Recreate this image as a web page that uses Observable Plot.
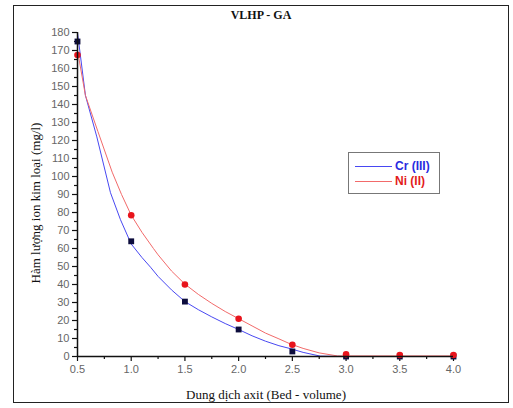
<!DOCTYPE html>
<html>
<head>
<meta charset="utf-8">
<script src="https://cdn.jsdelivr.net/npm/d3@7"></script>
<script src="https://cdn.jsdelivr.net/npm/@observablehq/plot@0.6"></script>
<style>
  html, body { margin: 0; padding: 0; background: #fff; }
  #wrap { position: relative; width: 513px; height: 408px; overflow: hidden; }
  #wrap > svg { position: absolute; left: 0; top: 0; }
  #frame { position: absolute; left: 13px; top: 5px; width: 496px; height: 398px; border: 1.5px solid #222; box-sizing: border-box; }
  #title { position: absolute; left: 0; width: 522px; top: 8px; text-align: center; font: bold 12px "Liberation Serif", "Times New Roman", serif; color: #111; }
  #xlabel { position: absolute; left: 0; width: 532px; top: 387px; text-align: center; font: 13px "Liberation Serif", "Times New Roman", serif; color: #111; }
  #ylabel { position: absolute; left: 36px; top: 203px; transform: translate(-50%, -50%) rotate(-90deg); white-space: nowrap; font: 13px "Liberation Serif", "Times New Roman", serif; color: #111; }
  #legend { position: absolute; left: 348px; top: 152px; width: 92px; height: 42px; border: 1px solid #777; box-sizing: border-box; background: #fff; }
  #legend svg { position: absolute; left: 0; top: 0; }
</style>
</head>
<body>
<div id="wrap">
  <div id="frame"></div>
  <div id="title"></div>
  <div id="xlabel"></div>
  <div id="ylabel"></div>
</div>
<script>
// ---- data ----
const titleText = "VLHP - GA";
const xLabelText = "Dung dịch axit (Bed - volume)";
const yLabelText = "Hàm lượng ion kim loại (mg/l)";
const seriesNames = ["Cr (III)", "Ni (II)"];

const xMeasured = [0.5, 1.0, 1.5, 2.0, 2.5, 3.0, 3.5, 4.0];
const crMeasured = [175, 64, 30.5, 15, 2.8, 0, 0, 0];
const niMeasured = [167.5, 78.5, 40, 21, 6.5, 1.2, 0.8, 0.8];

// fitted curves
const crCurveX = [0.5, 0.574, 0.68, 0.807, 0.9, 1.0, 1.1, 1.18, 1.25, 1.375, 1.5, 1.625, 1.75, 1.875, 2.0, 2.125, 2.25, 2.375, 2.48, 2.6, 2.76, 3.0, 3.5, 4.0];
const crCurveY = [180, 145, 122, 91, 76, 62.5, 55, 49.6, 44.5, 37, 30.5, 26, 22, 18.3, 15, 11.5, 8.5, 6, 4.4, 2.3, 0.2, 0, 0, 0];
const niCurveX = [0.5, 0.574, 0.69, 0.823, 0.91, 1.0, 1.1, 1.207, 1.25, 1.375, 1.5, 1.625, 1.75, 1.875, 2.0, 2.125, 2.25, 2.375, 2.48, 2.6, 2.75, 2.92, 3.5, 4.0];
const niCurveY = [170, 145, 125, 102.4, 90, 78.5, 69, 60, 56.5, 47.5, 40.2, 34.5, 29.5, 25, 21, 17, 13, 9.8, 7, 4.5, 2, 0.3, 0.3, 0.3];

const xTicks = [0.5, 1.0, 1.5, 2.0, 2.5, 3.0, 3.5, 4.0];
const xMinorTicks = [0.75, 1.25, 1.75, 2.25, 2.75, 3.25, 3.75];
const yTicks = d3.range(0, 181, 10);
const yMinorTicks = d3.range(5, 180, 10);

const colors = { cr: "#4848f2", ni: "#f26a6a", crDot: "#0c0c3c", niDot: "#e8141c", niText: "#e31b1b", crText: "#2a2ae0" };

// ---- tables ----
const crCurve = crCurveX.map((x, i) => ({ x, y: crCurveY[i] }));
const niCurve = niCurveX.map((x, i) => ({ x, y: niCurveY[i] }));
const crPts = xMeasured.map((x, i) => ({ x, y: crMeasured[i] }));
const niPts = xMeasured.map((x, i) => ({ x, y: niMeasured[i] }));

const chart = Plot.plot({
  width: 513,
  height: 408,
  marginLeft: 77,
  marginRight: 60,
  marginTop: 32,
  marginBottom: 52,
  style: { background: "transparent", fontFamily: "'Liberation Sans', Arial, sans-serif", fontSize: "11px", color: "#666", overflow: "visible" },
  x: { type: "linear", domain: [0.5, 4.0] },
  y: { type: "linear", domain: [0, 180] },
  marks: [
    Plot.axisX({ ticks: xTicks, tickSize: 5, tickPadding: 4, tickFormat: d3.format(".1f"), label: null, stroke: "#111", strokeWidth: 1.2, fill: "#666" }),
    Plot.axisX({ ticks: xMinorTicks, tickSize: 3, tickFormat: () => "", label: null, stroke: "#111", strokeWidth: 1.2 }),
    Plot.axisY({ ticks: yTicks, tickSize: 5, tickPadding: 3, label: null, stroke: "#111", strokeWidth: 1.2, fill: "#666" }),
    Plot.axisY({ ticks: yMinorTicks, tickSize: 3, tickFormat: () => "", label: null, stroke: "#111", strokeWidth: 1.2 }),
    Plot.line(crCurve, { x: "x", y: "y", stroke: colors.cr, strokeWidth: 1, curve: "linear" }),
    Plot.line(niCurve, { x: "x", y: "y", stroke: colors.ni, strokeWidth: 1, curve: "linear" }),
    Plot.dot(crPts, { x: "x", y: "y", symbol: "square", r: 3.3, fill: colors.crDot, stroke: "none" }),
    Plot.dot(niPts, { x: "x", y: "y", symbol: "circle", r: 3.3, fill: colors.niDot, stroke: "none" }),
    Plot.ruleY([0], { stroke: "#111", strokeWidth: 1.5 }),
    Plot.ruleX([0.5], { stroke: "#111", strokeWidth: 1.5 })
  ]
});

const wrap = document.getElementById("wrap");
wrap.insertBefore(chart, wrap.firstChild);

document.getElementById("title").textContent = titleText;
document.getElementById("xlabel").textContent = xLabelText;
document.getElementById("ylabel").textContent = yLabelText;

// legend (HTML box with a small svg inside)
const legend = document.createElement("div");
legend.id = "legend";
const lsvg = d3.create("svg").attr("width", 92).attr("height", 42);
const rows = [
  { name: seriesNames[0], line: colors.cr, text: colors.crText, y: 13 },
  { name: seriesNames[1], line: colors.ni, text: colors.niText, y: 28 }
];
rows.forEach(r => {
  lsvg.append("line").attr("x1", 6).attr("x2", 43).attr("y1", r.y + 0.5).attr("y2", r.y + 0.5)
    .attr("stroke", r.line).attr("stroke-width", 1.2);
  lsvg.append("text").attr("x", 46).attr("y", r.y).attr("dy", "0.36em")
    .attr("fill", r.text).attr("font-family", "'Liberation Sans', Arial, sans-serif")
    .attr("font-size", 12).attr("font-weight", 600).text(r.name);
});
legend.appendChild(lsvg.node());
wrap.appendChild(legend);
</script>
</body>
</html>
